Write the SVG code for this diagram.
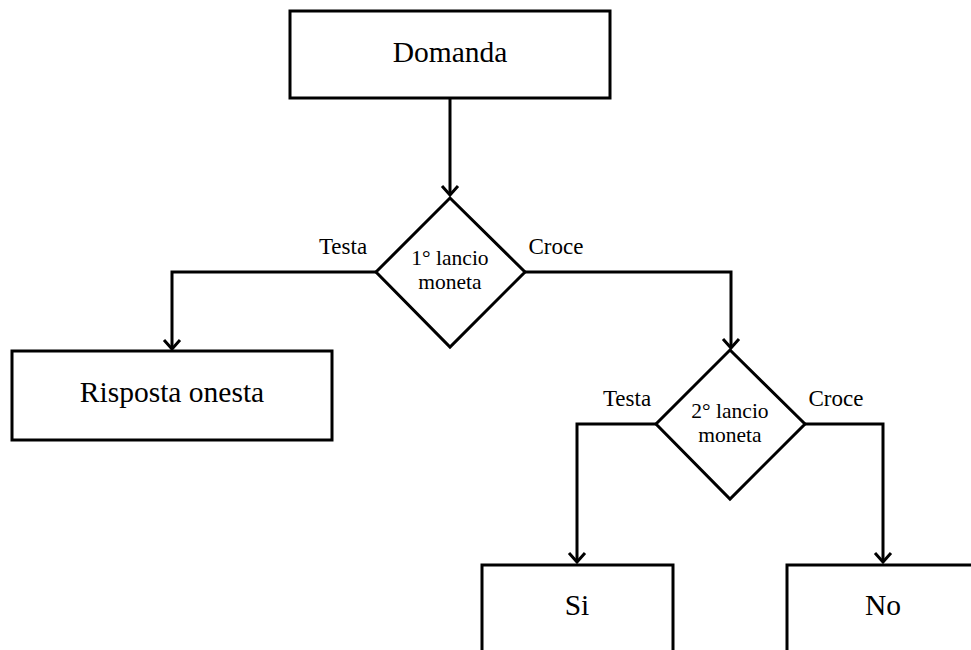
<svg xmlns="http://www.w3.org/2000/svg" width="971" height="650" viewBox="0 0 971 650">
<style>
.box{fill:#fff;stroke:#000;stroke-width:3}
.dia{fill:#fff;stroke:#000;stroke-width:3;stroke-linejoin:miter}
.t{font-family:"Liberation Serif","Times New Roman",serif;fill:#000;text-anchor:middle}
.big{font-size:29.5px}
.lbl{font-size:23px}
.sm{font-size:21.5px}
.conn{fill:none;stroke:#000;stroke-width:3}
.head{fill:none;stroke:#000;stroke-width:3}
</style>
<rect width="971" height="650" fill="#fff"/>
<g id="connectors">
<path class="conn" d="M450,99 V195"/>
<path class="head" d="M442,186 L450,195 L458,186"/>
<path class="conn" d="M376,272 H172 V349"/>
<path class="head" d="M164,340 L172,349 L180,340"/>
<path class="conn" d="M525,272 H731 V348"/>
<path class="head" d="M723,339 L731,348 L739,339"/>
<path class="conn" d="M656,424 H577 V562"/>
<path class="head" d="M569,553 L577,562 L585,553"/>
<path class="conn" d="M805,424 H883 V562"/>
<path class="head" d="M875,553 L883,562 L891,553"/>
<text class="t lbl" x="343" y="254">Testa</text>
<text class="t lbl" x="556" y="254">Croce</text>
<text class="t lbl" x="627" y="406">Testa</text>
<text class="t lbl" x="836" y="406">Croce</text>
</g>
<g id="domanda">
<rect class="box" x="290" y="11" width="320" height="87"/>
<text class="t big" x="450" y="62">Domanda</text>
</g>
<g id="lancio1">
<polygon class="dia" points="450,198 525,272 450,347 376,272"/>
<text class="t sm" x="450" y="265">1° lancio</text>
<text class="t sm" x="450" y="289">moneta</text>
</g>
<g id="risposta">
<rect class="box" x="12" y="351" width="320" height="89"/>
<text class="t big" x="172" y="402">Risposta onesta</text>
</g>
<g id="lancio2">
<polygon class="dia" points="730,350 805,424 730,499 656,424"/>
<text class="t sm" x="730" y="418">2° lancio</text>
<text class="t sm" x="730" y="442">moneta</text>
</g>
<g id="si">
<rect class="box" x="482" y="565" width="191" height="100"/>
<text class="t big" x="577" y="615">Si</text>
</g>
<g id="no">
<rect class="box" x="787" y="565" width="200" height="100"/>
<text class="t big" x="883" y="615">No</text>
</g>
</svg>
